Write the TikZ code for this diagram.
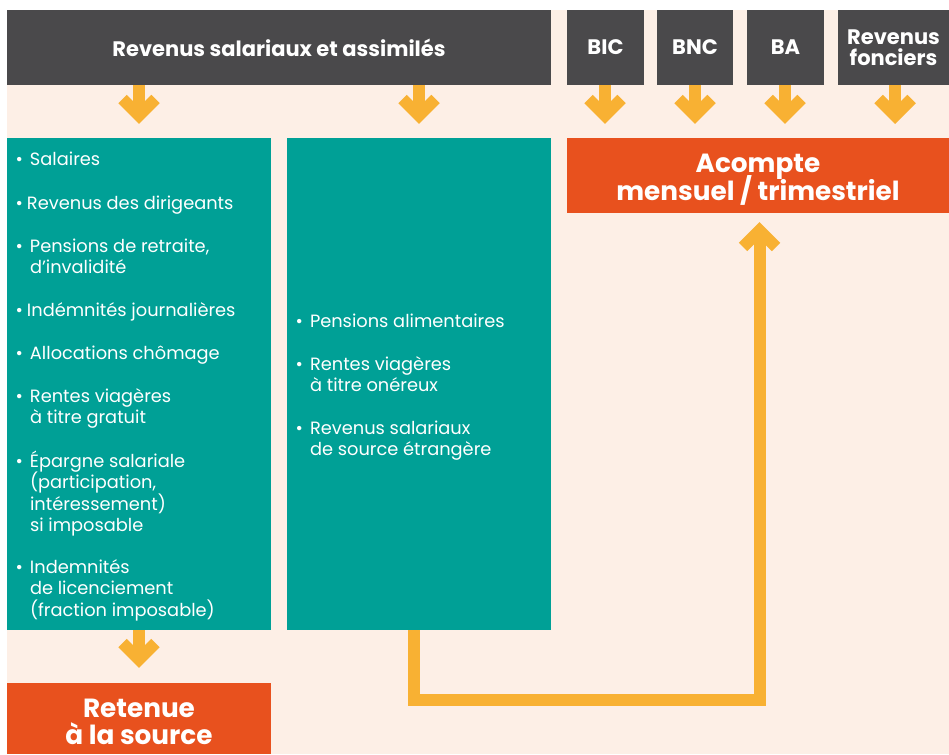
\documentclass[tikz,border=0pt]{standalone}
\usepackage{fontspec}
\setmainfont{Poppins}
\definecolor{hdrgray}{HTML}{4A494B}
\definecolor{peach}{HTML}{FDEFE6}
\definecolor{tealc}{HTML}{00A096}
\definecolor{orangec}{HTML}{E8511E}
\definecolor{yellowc}{HTML}{F8B133}
\newcommand\nolsl{\lineskiplimit=-100pt\relax}
\begin{document}
\begin{tikzpicture}[x=1pt,y=-1pt,
  box/.style={anchor=north west, inner sep=0pt, outer sep=0pt, draw=none},
  darkbox/.style={box, fill=hdrgray, text=white, font=\bfseries\fontsize{21}{21}\selectfont\nolsl, align=center, minimum height=75pt},
  tealbox/.style={box, fill=tealc, minimum width=264pt, minimum height=492pt},
  orangebox/.style={box, fill=orangec},
  bigtext/.style={inner sep=0pt, outer sep=0pt, text=white, font=\bfseries\fontsize{26.3}{27.5}\selectfont\nolsl, align=center},
  item/.style={anchor=base west, inner sep=0pt, outer sep=0pt, text=white, font=\fontsize{17.8}{21.5}\selectfont\nolsl, align=left},
  stem/.style={draw=yellowc, line width=12pt, line join=miter},
  chev/.style={draw=yellowc, line width=12pt, line join=miter},
  chevd/.pic={\draw[chev] (-16.5,-25) -- (0,-8.5) -- (16.5,-25);},
  chevu/.pic={\draw[chev] (-16.5,25) -- (0,8.5) -- (16.5,25);}
]
\useasboundingbox (0,0) rectangle (949,754);
\fill[white] (0,0) rectangle (949,754);
\fill[peach] (7,10) rectangle (949,754);

% header boxes
\node[darkbox, minimum width=544pt] (hdr) at (7,10) {Revenus salariaux et assimilés};
\node[darkbox, minimum width=77pt] (bic) at (567,10) {BIC};
\node[darkbox, minimum width=76pt] (bnc) at (657,10) {BNC};
\node[darkbox, minimum width=77pt] (ba) at (747,10) {BA};
\node[darkbox, minimum width=111pt] (rf) at (838,10) {Revenus\\fonciers};

% main boxes
\node[tealbox] (tL) at (7,138) {};
\node[tealbox] (tM) at (287,138) {};
\node[orangebox, minimum width=382pt, minimum height=75pt] (acompte) at (567,138) {};
\node[bigtext] (acompteT) at ([yshift=-4pt]acompte.center) {Acompte\\mensuel / trimestriel};
\node[orangebox, minimum width=264pt, minimum height=71pt] (retenue) at (7,683) {};
\node[bigtext] (retenueT) at ([yshift=-3.5pt]retenue.center) {Retenue\\à la source};

% x positions of connectors
\coordinate (xL) at (139,0);
\coordinate (xM) at (419,0);
\coordinate (xB1) at (605,0);
\coordinate (xB2) at (695,0);
\coordinate (xB3) at (785,0);
\coordinate (xB4) at (895,0);
\coordinate (xC) at (414,0);
\coordinate (xA) at (759.5,0);
\coordinate (yB) at (0,700);

% down arrows
\draw[stem] (hdr.south -| xL) -- ([yshift=24pt]tL.north -| xL);
\pic at ([yshift=14pt]tL.north -| xL) {chevd};
\draw[stem] (hdr.south -| xM) -- ([yshift=24pt]tM.north -| xM);
\pic at ([yshift=14pt]tM.north -| xM) {chevd};
\draw[stem] (bic.south -| xB1) -- ([yshift=24pt]acompte.north -| xB1);
\pic at ([yshift=14pt]acompte.north -| xB1) {chevd};
\draw[stem] (bnc.south -| xB2) -- ([yshift=24pt]acompte.north -| xB2);
\pic at ([yshift=14pt]acompte.north -| xB2) {chevd};
\draw[stem] (ba.south -| xB3) -- ([yshift=24pt]acompte.north -| xB3);
\pic at ([yshift=14pt]acompte.north -| xB3) {chevd};
\draw[stem] (rf.south -| xB4) -- ([yshift=24pt]acompte.north -| xB4);
\pic at ([yshift=14pt]acompte.north -| xB4) {chevd};
\draw[stem] (tL.south -| xL) -- ([yshift=25pt]retenue.north -| xL);
\pic at ([yshift=15pt]retenue.north -| xL) {chevd};

% connector to acompte
\draw[stem] (tM.south -| xC) -- (xC |- yB) -- (xA |- yB) -- ([yshift=-19pt]acompte.south -| xA);
\pic at ([yshift=-9pt]acompte.south -| xA) {chevu};

% left items (anchor = baseline of last line)
\node[item] (i1) at (30,166) {\llap{\textbullet\hspace{7pt}}Salaires};
\node[item] (i2) at (27,209) {\llap{\textbullet\hspace{4pt}}Revenus des dirigeants};
\node[item] (i3) at (30,273.5) {\llap{\textbullet\hspace{7pt}}Pensions de retraite,\\d’invalidité};
\node[item] (i4) at (27,316) {\llap{\textbullet\hspace{4pt}}Indémnités journalières};
\node[item] (i5) at (30,359) {\llap{\textbullet\hspace{7pt}}Allocations chômage};
\node[item] (i6) at (30,423.5) {\llap{\textbullet\hspace{7pt}}Rentes viagères\\à titre gratuit};
\node[item] (i7) at (30,531.5) {\llap{\textbullet\hspace{7pt}}Épargne salariale\\(participation,\\intéressement)\\si imposable};
\node[item] (i8) at (30,616) {\llap{\textbullet\hspace{7pt}}Indemnités\\de licenciement\\(fraction imposable)};

% middle items
\node[item] (m1) at (310,327) {\llap{\textbullet\hspace{7pt}}Pensions alimentaires};
\node[item] (m2) at (310,391.5) {\llap{\textbullet\hspace{7pt}}Rentes viagères\\à titre onéreux};
\node[item] (m3) at (310,455.5) {\llap{\textbullet\hspace{7pt}}Revenus salariaux\\de source étrangère};
\end{tikzpicture}
\end{document}
